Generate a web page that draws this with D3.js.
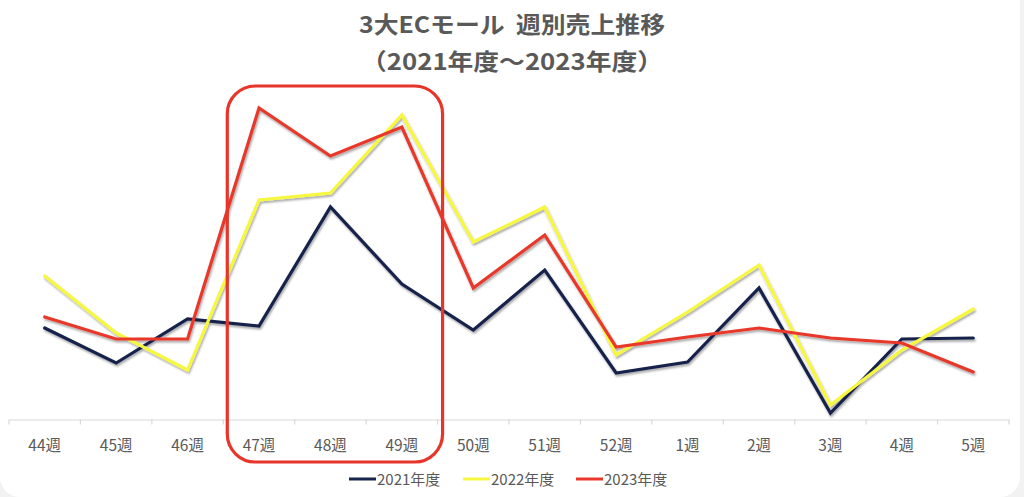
<!DOCTYPE html>
<html><head><meta charset="utf-8">
<script src="https://cdn.jsdelivr.net/npm/d3@7"></script>
<style>
html,body{margin:0;padding:0;background:#f2f2f2;}
svg{display:block;}
text{font-family:"Noto Sans CJK JP","Noto Sans",sans-serif;}
text.title{white-space:pre;}
</style></head>
<body>
<svg id="c" width="1024" height="497"></svg>
<script>
const categories = ["44週","45週","46週","47週","48週","49週","50週","51週","52週","1週","2週","3週","4週","5週"];
const series2021 = [91, 56, 100, 93, 212, 135, 89, 149, 46, 57, 131, 6, 80, 81];
const series2022 = [143, 86, 49, 219, 226, 304, 177, 212, 64, 107, 154, 14, 69, 110];
const series2023 = [102, 80, 80, 311, 263, 292, 131, 184, 72, 82, 91, 81, 76, 47];
const seriesNames = ["2021年度","2022年度","2023年度"];
const highlight = ["47週","49週"];
const titleLines = ["3大ECモール  週別売上推移","（2021年度～2023年度）"];

const colors = ["#17244b","#f7f740","#e8382b"];
const svg = d3.select("#c");

// card
svg.append("rect").attr("x",0).attr("y",-20).attr("width",1020).attr("height",517)
  .attr("rx",20).attr("fill","#ffffff");

const defs = svg.append("defs");
const f = defs.append("filter").attr("id","sh").attr("x","-10%").attr("y","-10%").attr("width","120%").attr("height","130%");
f.append("feDropShadow").attr("dx",1).attr("dy",2).attr("stdDeviation",1.3)
  .attr("flood-color","#000").attr("flood-opacity",0.35);

const x = d3.scaleBand().domain(categories).range([9,1009]);
const y = d3.scaleLinear().domain([0,320]).range([419,99]);

// title
const tl = [306, 302];
svg.selectAll("text.title").data(titleLines).join("text").attr("class","title")
  .attr("xml:space","preserve")
  .attr("x",512).attr("y",(d,i)=>33+i*37).attr("text-anchor","middle")
  .attr("font-size",23).attr("font-weight","bold").attr("fill","#595959")
  .attr("textLength",(d,i)=>tl[i]).attr("lengthAdjust","spacingAndGlyphs").text(d=>d);

// axis
const ax = svg.append("g").attr("transform","translate(0,419.5)")
  .call(d3.axisBottom(x).tickSize(0).tickPadding(0));
ax.select(".domain").attr("stroke","#d9d9d9").attr("stroke-width",1.2);
ax.selectAll(".tick text").remove();
const bounds = categories.map(c=>x(c)).concat([x.range()[1]]);
ax.selectAll("line.b").data(bounds).join("line").attr("class","b")
  .attr("x1",d=>d).attr("x2",d=>d).attr("y1",0).attr("y2",5)
  .attr("stroke","#d9d9d9").attr("stroke-width",1.2);
svg.selectAll("text.xl").data(categories).join("text").attr("class","xl")
  .attr("x",d=>x(d)+x.bandwidth()/2).attr("y",451).attr("text-anchor","middle")
  .attr("font-size",15.5).attr("fill","#595959").text(d=>d);

// lines
const all = [series2021, series2022, series2023];
const line = d3.line().x((d,i)=>x(categories[i])+x.bandwidth()/2).y(d=>y(d));
svg.append("g").attr("filter","url(#sh)").selectAll("path").data(all).join("path")
  .attr("d",line).attr("fill","none").attr("stroke",(d,i)=>colors[i])
  .attr("stroke-width",3.2).attr("stroke-linejoin","miter").attr("stroke-linecap","round");

// highlight box
const hx0 = x(highlight[0]) + 4, hx1 = x(highlight[1]) + x.bandwidth() + 5;
svg.append("rect").attr("x",hx0).attr("y",86).attr("width",hx1-hx0).attr("height",376)
  .attr("rx",28).attr("fill","none").attr("stroke","#e8352a").attr("stroke-width",3.2);

// legend
const lx = [349, 463, 576];
const lg = svg.selectAll("g.lg").data(seriesNames).join("g").attr("class","lg")
  .attr("transform",(d,i)=>`translate(${lx[i]},479)`);
lg.append("line").attr("x1",0).attr("x2",27).attr("y1",0).attr("y2",0)
  .attr("stroke",(d,i)=>colors[i]).attr("stroke-width",3);
lg.append("text").attr("x",28).attr("y",5.5).attr("font-size",15).attr("fill","#595959").text(d=>d);
</script>
</body></html>
